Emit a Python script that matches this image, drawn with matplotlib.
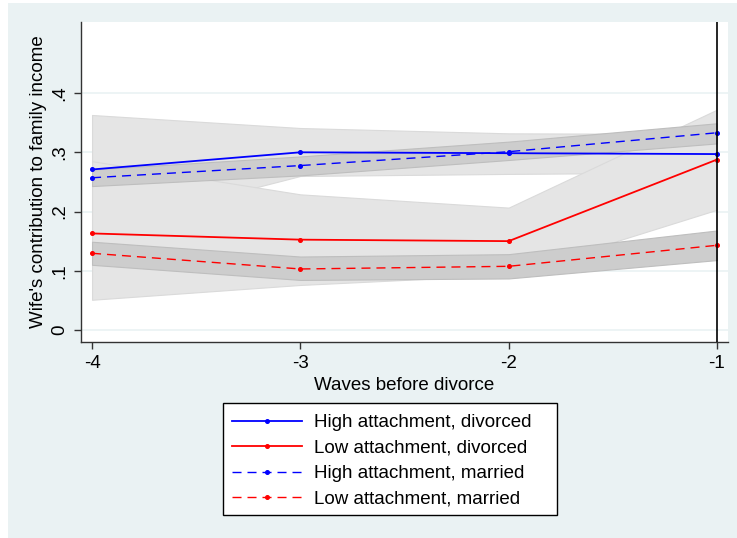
import numpy as np
import matplotlib
matplotlib.use("Agg")
import matplotlib.pyplot as plt
from matplotlib.patches import Rectangle

plt.rcParams['font.family'] = ['Liberation Sans', 'DejaVu Sans']

# waves before divorce
waves = [-4, -3, -2, -1]

# high attachment, divorced (estimate and CI)
hi_div = [0.271, 0.300, 0.2985, 0.297]
hi_div_lo = [0.170, 0.260, 0.2635, 0.266]
hi_div_hi = [0.363, 0.341, 0.332, 0.331]

# low attachment, divorced
lo_div = [0.163, 0.1525, 0.150, 0.2877]
lo_div_lo = [0.051, 0.076, 0.093, 0.203]
lo_div_hi = [0.285, 0.229, 0.2066, 0.372]

# high attachment, married
hi_mar = [0.257, 0.2776, 0.301, 0.333]
hi_mar_lo = [0.243, 0.261, 0.287, 0.315]
hi_mar_hi = [0.271, 0.293, 0.318, 0.349]

# low attachment, married
lo_mar = [0.1295, 0.103, 0.1075, 0.143]
lo_mar_lo = [0.110, 0.0845, 0.087, 0.118]
lo_mar_hi = [0.149, 0.124, 0.128, 0.168]

yticks = [0, 0.1, 0.2, 0.3, 0.4]
ytick_labels = ['0', '.1', '.2', '.3', '.4']

bg = '#eaf2f3'
light = '#e5e5e5'
dark = '#cdcdcd'
fs = 13.5
W, H = 737, 538

fig = plt.figure(figsize=(7.37, 5.38), dpi=100)
fig.patch.set_facecolor('white')
fig.patches.append(Rectangle((8 / W, 0), 1 - 8 / W, 1 - 3 / H,
                             transform=fig.transFigure, facecolor=bg,
                             edgecolor='none', zorder=-10))

ax = fig.add_axes([81 / W, 1 - 342 / H, 647 / W, 320 / H])
ax.set_facecolor('white')

# confidence bands
ax.fill_between(waves, hi_div_lo, hi_div_hi, facecolor=light, edgecolor='#dadada', lw=0.8, zorder=1)
ax.fill_between(waves, lo_div_lo, lo_div_hi, facecolor=light, edgecolor='#dadada', lw=0.8, zorder=1)
ax.fill_between(waves, hi_mar_lo, hi_mar_hi, facecolor=dark, edgecolor='#bebebe', lw=0.8, zorder=2)
ax.fill_between(waves, lo_mar_lo, lo_mar_hi, facecolor=dark, edgecolor='#bebebe', lw=0.8, zorder=2)

dash = (0, (6.5, 4.3))
ax.plot(waves, hi_div, color='#0000ff', lw=1.3, marker='o', ms=2.6, zorder=4,
        label='High attachment, divorced')
ax.plot(waves, lo_div, color='#ff0000', lw=1.3, marker='o', ms=2.6, zorder=4,
        label='Low attachment, divorced')
ax.plot(waves, hi_mar, color='#0000ff', lw=1.0, ls=dash, marker='o', ms=2.6, zorder=4,
        label='High attachment, married')
ax.plot(waves, lo_mar, color='#ff0000', lw=1.0, ls=dash, marker='o', ms=2.6, zorder=4,
        label='Low attachment, married')

ax.axvline(-1, color='black', lw=1.2, zorder=5)

ax.set_xlim(-4.053, -0.947)
ax.set_ylim(-0.0203, 0.520)
ax.set_xticks(waves)
ax.set_xticklabels(['-4', '-3', '-2', '-1'])
ax.set_yticks(yticks)
ax.set_yticklabels(ytick_labels, rotation=90, va='center')
ax.grid(axis='y', color=bg, lw=1.2, zorder=0)
ax.set_axisbelow(True)

for s in ['top', 'right']:
    ax.spines[s].set_visible(False)
for s in ['left', 'bottom']:
    ax.spines[s].set_color('#333333')
    ax.spines[s].set_linewidth(1.0)
ax.tick_params(axis='both', length=5, width=1.0, color='#333333', labelsize=fs, pad=4)

ax.set_xlabel('Waves before divorce', fontsize=fs, labelpad=4)
ax.set_ylabel("Wife's contribution to family income", fontsize=fs, labelpad=3)

# legend box drawn by hand, entries placed inside it
fig.patches.append(Rectangle((223 / W, 1 - 515 / H), 334 / W, 112 / H,
                             transform=fig.transFigure, facecolor='white',
                             edgecolor='black', lw=1.0, zorder=-5))
leg = fig.legend(loc='upper left', bbox_to_anchor=(232 / W, 1 - 414 / H), ncol=1,
                 fontsize=fs, frameon=False, handlelength=3.75,
                 handletextpad=0.6, labelspacing=0.45, borderpad=0, borderaxespad=0,
                 numpoints=1)

fig.savefig('out.png', dpi=100, facecolor=fig.get_facecolor())
